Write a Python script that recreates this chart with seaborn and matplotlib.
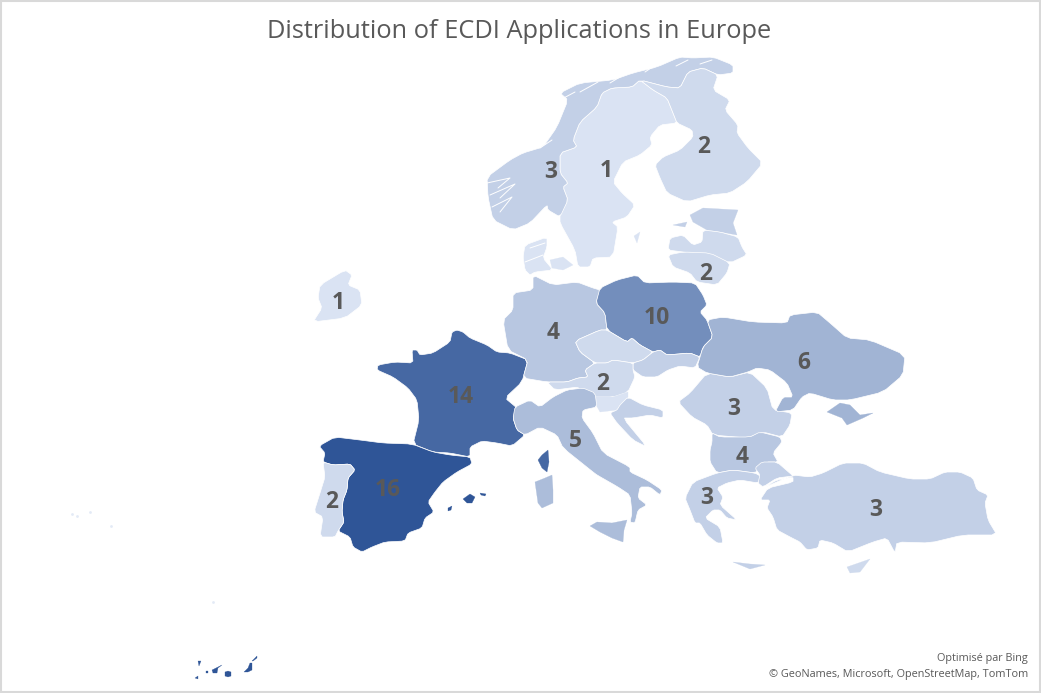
import matplotlib
matplotlib.use("Agg")
import matplotlib.pyplot as plt
import pandas as pd
import seaborn as sns
from matplotlib.colors import Normalize

TITLE = "Distribution of ECDI Applications in Europe"
CREDIT_1 = "Optimisé par Bing"
CREDIT_2 = "© GeoNames, Microsoft, OpenStreetMap, TomTom"

# Country outlines on a 1041x693 map grid
france = [(457,330),(463,332),(470,338),(487,345),(497,352),(510,353),(528,360),(522,382),(505,398),(517,408),(513,418),(517,430),(525,435),(512,446),(497,443),(482,441),(470,447),(470,457),(450,453),(433,452),(413,444),(419,420),(417,400),(408,388),(393,377),(377,370),(378,365),(395,362),(413,363),(412,350),(417,350),(420,355),(433,353),(450,342),(452,332)]
corsica = [(548,450),(549,462),(547,472),(542,468),(538,460),(542,455)]
spain = [(319,446),(335,437),(360,440),(383,443),(412,444),(433,452),(450,455),(470,457),(472,464),(457,472),(443,482),(435,492),(428,502),(434,512),(425,518),(422,528),(408,533),(405,541),(385,542),(372,547),(362,552),(353,547),(350,537),(338,531),(344,522),(342,512),(343,500),(347,490),(348,478),(355,470),(350,464),(333,465),(323,462),(325,453)]
mallorca = [(463,499),(470,494),(475,497),(472,503),(467,503)]
menorca = [(480,493),(486,494),(485,496),(481,495)]
ibiza = [(448,508),(452,506),(451,510),(448,511)]
tenerife = [(212,670),(222,665),(218,668),(217,673),(213,673)]
gran_canaria = [(225,672),(228,671),(231,672),(231,676),(228,677),(225,676)]
fuerteventura = [(244,672),(248,668),(250,663),(252,663),(252,670),(248,672)]
lanzarote = [(252,661),(257,656),(257,658),(253,661)]
la_palma = [(198,661),(201,661),(199,666)]
gomera = [(206,671),(208,671),(208,673),(206,673)]
hierro = [(195,678),(198,676),(198,679)]
portugal = [(323,462),(333,465),(350,464),(355,470),(348,478),(347,490),(343,500),(342,512),(344,522),(338,531),(335,537),(320,537),(323,517),(314,512),(320,493),(325,477)]
germany = [(513,293),(533,290),(533,275),(553,285),(577,282),(593,288),(600,290),(596,303),(605,313),(607,330),(600,330),(575,341),(580,352),(595,363),(585,370),(588,377),(578,378),(567,382),(547,382),(523,378),(528,360),(508,350),(503,320),(513,310)]
poland = [(600,288),(617,280),(637,275),(645,283),(673,282),(695,283),(703,295),(707,305),(700,312),(707,320),(713,337),(703,347),(700,357),(690,353),(667,355),(660,350),(653,352),(640,345),(632,338),(627,342),(607,330),(605,313),(596,303)]
czechia = [(575,341),(600,330),(607,330),(627,342),(632,338),(640,345),(653,352),(643,360),(633,363),(613,360),(607,363),(595,363),(580,352)]
slovakia = [(653,352),(660,350),(667,355),(690,353),(700,357),(695,368),(680,366),(668,370),(657,377),(643,377),(633,370),(633,363),(643,360)]
austria = [(585,370),(595,363),(607,363),(613,360),(633,363),(633,370),(635,377),(628,392),(613,397),(593,397),(580,392),(578,387),(555,390),(547,382),(567,382),(578,378),(588,377)]
slovenia = [(593,397),(613,397),(628,392),(628,397),(620,405),(617,410),(600,412),(595,403)]
croatia = [(628,397),(643,405),(663,410),(663,418),(650,415),(633,418),(623,418),(647,447),(633,440),(617,423),(610,413),(617,410),(620,405)]
italy = [(515,407),(530,400),(540,407),(553,397),(567,390),(583,388),(595,393),(597,407),(583,410),(582,418),(593,433),(603,453),(630,467),(630,472),(647,480),(662,490),(660,495),(650,487),(640,487),(638,498),(647,505),(638,510),(635,523),(630,522),(632,513),(630,495),(618,487),(597,475),(593,472),(563,448),(557,435),(540,427),(525,435),(517,430),(513,418)]
sicily = [(590,526),(597,522),(612,523),(627,520),(624,530),(623,542),(612,538),(600,532)]
sardinia = [(535,482),(545,478),(552,475),(553,490),(553,503),(542,508),(538,503)]
sweden = [(612,88),(632,87),(640,80),(653,90),(667,98),(673,113),(677,123),(660,125),(650,137),(652,145),(640,155),(623,162),(613,182),(622,193),(635,205),(627,217),(612,222),(618,227),(613,257),(593,258),(590,267),(578,267),(575,250),(560,223),(560,215),(568,200),(563,187),(568,183),(560,173),(560,153),(577,147),(573,140),(580,122),(597,107),(602,93)]
norway = [(733,65),(713,57),(693,58),(680,57),(657,67),(633,73),(613,80),(580,83),(560,93),(568,100),(557,127),(543,147),(523,153),(510,160),(487,177),(488,197),(493,220),(513,230),(530,223),(547,205),(548,210),(560,217),(568,200),(563,187),(568,183),(560,173),(560,153),(577,147),(573,140),(580,122),(597,107),(602,93),(612,88),(632,87),(640,80),(667,87),(680,88),(688,72),(703,68),(718,75),(733,73)]
finland = [(677,123),(673,113),(667,98),(653,90),(640,80),(667,87),(680,88),(688,72),(703,68),(718,75),(713,90),(730,100),(725,110),(738,125),(737,133),(748,148),(763,163),(747,182),(730,193),(710,195),(687,202),(667,193),(660,178),(655,165),(663,157),(680,150),(693,137),(692,130)]
estonia = [(690,215),(703,208),(738,210),(733,223),(737,235),(720,232),(707,230),(693,222)]
saaremaa = [(673,225),(687,222),(685,227)]
latvia = [(668,250),(670,238),(683,235),(693,245),(702,242),(703,230),(720,232),(738,237),(742,247),(747,255),(730,263),(710,255),(683,252)]
lithuania = [(668,255),(683,252),(710,253),(730,263),(727,273),(717,285),(697,282),(690,273),(673,267)]
denmark = [(523,257),(525,245),(547,237),(547,247),(543,258),(553,270),(535,272),(530,275),(525,270)]
zealand = [(550,260),(563,257),(573,265),(563,270),(552,268)]
gotland = [(634,236),(640,232),(637,243)]
romania = [(678,402),(690,393),(707,373),(730,377),(750,372),(767,388),(773,410),(792,413),(790,425),(782,437),(763,432),(747,438),(713,435),(707,425),(692,417)]
ukraine = [(697,367),(703,347),(713,337),(707,320),(723,317),(753,322),(787,323),(790,315),(817,312),(830,323),(847,338),(870,340),(905,355),(903,375),(883,392),(850,400),(833,400),(810,393),(802,397),(793,410),(775,412),(783,397),(793,397),(787,383),(770,370),(757,368),(748,372),(730,377),(707,373)]
crimea = [(827,412),(840,403),(850,405),(860,415),(873,413),(863,418),(847,425),(842,418)]
bulgaria = [(712,433),(720,437),(750,437),(760,432),(780,437),(782,442),(773,453),(778,462),(767,462),(760,467),(755,473),(733,470),(717,473),(710,462),(710,450),(712,442)]
greece = [(693,482),(717,473),(733,470),(755,473),(762,477),(758,483),(740,480),(727,483),(717,488),(723,497),(720,505),(737,520),(727,518),(720,510),(713,510),(705,518),(720,527),(723,543),(717,543),(707,535),(700,523),(695,523),(690,510),(685,498)]
crete = [(733,562),(750,564),(765,565),(750,569)]
cyprus = [(847,567),(870,559),(860,572),(850,573)]
turkey = [(763,488),(777,480),(793,477),(793,482),(768,488),(760,500),(770,500),(767,508),(773,517),(777,530),(792,538),(800,542),(807,550),(818,548),(820,540),(833,543),(848,552),(873,542),(887,538),(895,553),(897,542),(930,543),(963,535),(997,535),(988,520),(985,503),(988,495),(977,490),(973,478),(960,472),(945,472),(930,479),(910,479),(880,472),(863,463),(843,463),(823,473),(810,477),(793,475)]
thrace = [(762,462),(777,462),(792,475),(793,476),(777,478),(763,487),(758,483),(760,475),(755,468)]
ireland = [(320,285),(345,270),(352,275),(348,285),(360,290),(362,305),(345,318),(313,322),(322,308),(318,298)]

# Fjords and sea inlets that cut into the coasts
inlet_a = [(487,183),(510,178),(498,188)]
inlet_b = [(490,195),(515,184),(500,198)]
inlet_c = [(492,207),(512,197),(500,212)]
inlet_d = [(540,148),(552,140)]
inlet_e = [(560,100),(575,92)]
inlet_f = [(580,92),(598,82)]
inlet_g = [(610,83),(628,72)]
inlet_h = [(645,72),(660,62)]
inlet_i = [(676,66),(688,60)]
inlet_j = [(700,64),(712,60)]
inlet_k = [(530,248),(545,243)]
inlet_l = [(525,262),(543,255)]
inlet_m = [(545,120),(560,108)]

# Applications per country
shapes = [france, corsica, spain, mallorca, menorca, ibiza, tenerife, gran_canaria, fuerteventura, lanzarote, la_palma, gomera, hierro,
          portugal, germany, poland, czechia, slovakia, austria, slovenia, croatia, italy, sicily, sardinia, sweden, gotland, norway,
          finland, estonia, saaremaa, latvia, lithuania, denmark, zealand, romania, ukraine, crimea, bulgaria, greece, crete, cyprus,
          turkey, thrace, ireland]
shape_values = [14, 14, 16, 16, 16, 16, 16, 16, 16, 16, 16, 16, 16,
                2, 4, 10, 2, 3, 2, 1, 3, 5, 5, 5, 1, 1, 3,
                2, 3, 3, 2, 2, 1, 1, 3, 6, 6, 4, 3, 3, 2,
                3, 3, 1]
inlets = [inlet_a, inlet_b, inlet_c, inlet_d, inlet_e, inlet_f, inlet_g, inlet_h, inlet_i, inlet_j, inlet_k, inlet_l, inlet_m]

# Data labels
label_text = [3, 1, 2, 2, 1, 4, 10, 6, 2, 14, 3, 5, 4, 2, 16, 3, 3]
label_x = [551, 606, 704, 706, 338, 553, 657, 804, 603, 461, 734, 575, 742, 332, 388, 707, 876]
label_y = [172, 171, 147, 274, 303, 333, 318, 363, 384, 397, 409, 441, 457, 502, 490, 498, 510]

# Very small Portuguese islands
islet_x = [72, 77, 90, 111, 213]
islet_y = [514, 516, 512, 526, 602]


def rounded(points):
    """One pass of corner cutting so that long outlines read as coasts."""
    result = []
    for i, (x0, y0) in enumerate(points):
        x1, y1 = points[(i + 1) % len(points)]
        result.append((0.85 * x0 + 0.15 * x1, 0.85 * y0 + 0.15 * y1))
        result.append((0.15 * x0 + 0.85 * x1, 0.15 * y0 + 0.85 * y1))
    return result


sns.set_theme(style="white")
plt.rcParams["font.family"] = ["Open Sans", "DejaVu Sans"]

cmap = sns.blend_palette(["#DAE3F3", "#2F5597"], as_cmap=True)
norm = Normalize(1, 16)

fig = plt.figure(figsize=(10.41, 6.93), dpi=100)
ax = fig.add_axes([0, 0, 1, 1])
ax.set_xlim(0, 1041)
ax.set_ylim(693, 0)
ax.axis("off")

for outline, value in zip(shapes, shape_values):
    if len(outline) >= 9:
        xs, ys = zip(*rounded(outline))
        ax.fill(xs, ys, facecolor=cmap(norm(value)), edgecolor="white", linewidth=0.5, zorder=2)
    else:
        xs, ys = zip(*outline)
        ax.fill(xs, ys, facecolor=cmap(norm(value)), edgecolor=cmap(norm(value)), linewidth=0.2, zorder=2)

for line in inlets:
    xs, ys = zip(*line)
    ax.plot(xs, ys, color="white", linewidth=0.7, zorder=2.5, solid_capstyle="round")

islets = pd.DataFrame({"x": islet_x, "y": islet_y})
sns.scatterplot(data=islets, x="x", y="y", ax=ax, s=4, marker="o", color="#E3EAF6", linewidth=0, zorder=2)
ax.set_xlabel("")
ax.set_ylabel("")

for text, x, y in zip(label_text, label_x, label_y):
    ax.text(x, y, str(text), ha="center", va="center", fontsize=16.5, fontweight="bold", color="#595959", zorder=3)

ax.text(519, 32, TITLE, ha="center", va="center", fontsize=18.3, color="#595959")
ax.text(1028, 659, CREDIT_1, ha="right", va="center", fontsize=7.8, color="#595959")
ax.text(1028, 674, CREDIT_2, ha="right", va="center", fontsize=7.8, color="#595959")

border = plt.Rectangle((0.5, 0.5), 1039.5, 691, fill=False, edgecolor="#D9D9D9", linewidth=1.5, zorder=4)
ax.add_patch(border)

fig.savefig("out.png", dpi=100, facecolor="white")
